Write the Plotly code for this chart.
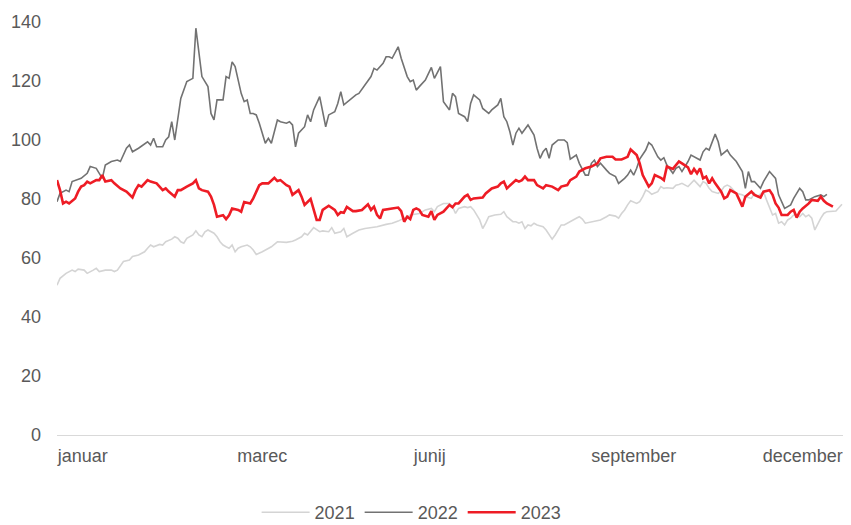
import plotly.graph_objects as go

# ---- data (trading-day index within the year, value) ----
days_2021 = [0,1,3,4,5,6,7,9,10,12,13,14,16,18,19,20,22,24,25,27,29,30,31,32,34,35,36,38,39,40,41,42,43,45,46,47,48,49,50,52,53,54,55,56,57,58,59,60,61,63,64,65,66,68,69,71,73,74,76,78,79,81,82,83,84,85,87,88,90,91,92,94,95,96,98,100,102,104,106,109,111,113,115,117,120,122,124,125,126,128,130,131,132,133,135,136,137,138,140,141,142,143,145,147,148,149,151,152,153,154,155,156,157,158,159,161,162,163,164,165,166,167,168,169,170,172,173,174,175,177,178,180,182,183,185,186,187,188,189,190,192,193,194,195,196,197,199,200,201,202,204,205,206,207,209,210,211,212,213,214,215,216,217,219,220,221,222,223,224,225,227,228,230,231,232,234,235,236,237,238,239,240,241,242,243,244,245,246,247,248,249,250,251,253,254,255,257,258,260]
vals_2021 = [50.8,53.1,54.8,55.4,55.9,55.4,56.2,55.9,54.8,55.9,56.5,55.4,55.9,55.9,55.4,55.9,58.8,59.3,60.5,61,62.1,63.3,64.4,63.8,64.6,64.4,65.5,66.4,67.2,66.7,65.5,65,66.7,67.8,69.2,67.8,67.2,68.9,69.5,68.4,67.2,65.5,64.4,63.8,63.3,64.4,62.1,63.3,63.8,64.4,63.8,62.7,61.2,62.1,62.7,63.8,65.5,65.5,65.3,65.7,66.1,67.2,68.4,67.8,68.9,70.3,68.9,69.2,68.9,70.3,68.4,68.9,70,67.2,68.4,69.5,70,70.3,70.6,71.4,71.8,72.5,73.5,74.6,75.1,76.3,76.8,75.7,77.4,78.5,78.5,77.4,75.1,76.8,77.4,77.1,77.4,76.3,72.9,70,71.8,74,74.6,74.8,75.7,74,72.3,72.3,71.8,72.3,70,71.2,70.9,71.8,71.2,70.6,69.5,67.8,66.4,67.8,69.5,71.2,71.2,71.8,72.5,73.5,74,73.2,71.8,72.3,72.3,72.9,74,74.6,74.2,73.5,75.1,76.3,78,79.4,78.5,79.1,80.8,83,82.5,81.6,82.5,84.2,83.6,83.8,83.6,84.7,84.9,85.3,84.2,85.3,86.4,85.3,84.2,85.9,85.3,83.6,82.5,81.9,82.7,84.2,84.7,84.2,83,81.9,81.4,80.8,80.2,81.9,80.8,82.5,79.7,76.8,74.6,75.1,71.8,72.3,71.2,72.9,73.5,74.6,74.6,74,75.1,74,74.6,73.5,69.5,73.5,75.1,75.7,75.7,75.9,78.2]

days_2022 = [0,1,3,4,5,8,10,11,13,15,16,18,20,21,23,24,25,27,30,31,32,33,35,36,37,38,39,40,41,43,45,46,48,50,51,52,53,55,56,57,58,59,61,62,63,64,65,66,67,69,70,71,73,74,76,77,78,79,80,82,83,84,85,87,89,90,92,93,94,95,97,99,100,102,104,105,106,108,109,110,111,113,114,116,117,118,119,120,122,124,125,127,128,130,131,132,133,135,136,137,138,140,141,143,144,146,147,148,149,150,151,152,153,154,156,157,158,159,160,161,162,163,164,166,168,169,170,172,173,175,176,177,178,179,180,182,183,185,186,188,189,190,191,192,193,195,196,197,199,200,201,202,204,205,206,207,209,210,211,213,214,215,216,218,219,220,222,223,225,227,228,229,230,231,233,234,236,238,239,241,243,244,246,247,248,249,251,253,254,255]
vals_2022 = [79.1,81.9,83,82.5,85.9,87,88.7,91,90.4,87,91.5,92.7,93.2,92.7,97.2,98.3,96,97.2,99.4,98.3,100.6,97.7,97.7,100,101.1,106.2,100,107.4,114.1,119.8,120.9,137.9,121.5,118.1,109,106.8,113.6,113.6,121.5,120.9,126.5,124.9,115.8,113,113.6,109,109,108.5,105.7,98.9,100.6,98.9,106.8,106.2,105.7,106.2,105.1,97.7,102.3,104.5,108.5,106.2,110.2,114.7,104.5,108.5,109.6,112.4,116.4,111.9,113.6,115.3,115.8,118.6,121.5,124.3,123.7,126,128.2,128.2,127.7,131.6,127.7,121.5,119.8,120.3,116.9,118.1,120.3,124.6,120.9,124.9,113,110.2,115.8,114.7,109,107.9,106.2,112.4,115.3,113.6,110.7,109,110.2,111.9,114.1,107.9,106.2,102.8,98.3,102.3,104,102.3,105.1,103.4,101.7,97.2,93.8,96,97.2,93.8,98.3,100,100,99.1,93.5,94.9,92.1,88.1,88.1,92.1,93.2,91,92.1,89.8,88.7,87.6,85.3,87,88.1,89.8,88.1,90.4,93.5,96.6,99.1,98.3,94.3,93.2,94,91.5,88.7,90.4,91,89.3,92.7,94.9,94.3,93.2,96,97.2,96.6,102,99.4,94.9,96.6,94.9,92.7,89.3,83.6,89.3,85.9,85.9,83.6,85.9,89.3,87,81.4,76.8,78,80.2,83.6,82.5,79.7,79.7,80.8,81.4,80.8,81.6]

days_2023 = [0,1,2,3,4,6,7,8,9,10,11,13,14,15,16,18,19,21,23,25,26,27,28,30,31,33,35,36,37,39,40,41,43,45,46,47,48,50,51,52,53,55,56,57,58,60,61,62,64,65,67,68,70,71,72,73,74,76,77,78,80,81,82,84,85,86,87,88,90,92,93,94,95,96,98,99,101,103,104,105,106,107,108,110,111,113,114,115,116,117,118,119,120,121,123,124,125,126,128,130,131,132,133,135,136,137,138,141,142,144,146,147,148,149,151,152,153,154,155,156,158,159,161,162,164,166,167,169,170,172,173,174,175,177,179,180,182,184,185,187,189,190,191,192,193,194,196,197,198,200,201,202,204,205,206,207,209,210,211,212,213,214,215,216,217,218,220,221,222,223,225,226,227,228,230,231,233,234,236,237,238,239,240,242,243,244,245,246,247,249,250,252,253,254,255,257]
vals_2023 = [86.4,83,78.5,79.1,78.5,80.2,82.5,84.2,84.7,85.9,85.3,86.4,86.4,88.1,85.9,86.4,85.3,83.6,82.5,80.5,83,84.7,84.2,86.4,85.9,85.3,83,83.6,82.5,80.8,83,83,84.2,85.3,86.4,83.6,83,82.5,80.8,78,74,74.5,73.2,74.5,76.8,76.3,75.7,79,78.5,80.2,84.7,85.3,85.3,86.4,87.2,86.1,86.4,84.7,84.2,81.4,83,80.8,78,80,76.3,72.9,72.9,76.3,77.7,76.3,74.6,75.5,75.3,77.3,75.9,75.9,76.3,78.2,76.3,77.4,74.6,73.4,76.3,76.8,76.8,77.1,75.9,72.3,74,73.2,76.3,76.8,76.3,74.6,74,75.9,72.9,74.6,75.7,78,77.2,78.5,78.5,80.8,81.4,79.7,80.2,80.5,81.9,83.6,84.2,85.3,85.9,83.6,85.3,86.4,85.9,86.4,87.6,86.4,86.4,84.7,83.6,84.7,84.2,83,84.2,84.7,86.4,87.6,89.3,89.8,90.4,91,92.1,93.8,94.3,94.3,93.4,93.4,94.3,96.8,96,94.9,92.1,88.1,84.2,85.3,88.1,87.2,86.4,91,90.2,91.3,92.7,92.1,90.7,88.4,90.2,88.7,90.4,87,87.6,85.3,87,85.3,82.5,80.2,80.8,83,81.9,79.7,77.4,80.8,82.5,81.4,80.5,82.5,83,81.4,78.5,77.1,74.6,74.6,75.7,76.3,73.7,75.7,76.8,78.5,79.7,79.4,80.8,79.4,78.5,77.4]

tick_pos = [8.5, 68, 123.5, 191, 247]
tick_text = ["januar", "marec", "junij", "september", "december"]
y_ticks = [0, 20, 40, 60, 80, 100, 120, 140]

series = [
    ("2021", days_2021, vals_2021, "#d4d4d4", 1.6),
    ("2022", days_2022, vals_2022, "#727272", 1.6),
    ("2023", days_2023, vals_2023, "#ee1c25", 2.6),
]

fig = go.Figure()
for name, xs, ys, col, w in series:
    fig.add_trace(go.Scatter(x=xs, y=ys, name=name, mode="lines",
                             line=dict(color=col, width=w)))

font_main = dict(family="Liberation Sans, Arial, sans-serif", size=18, color="#595959")

# the page body adds an 8px offset, so the figure is sized to fit the window
fig.update_layout(
    width=843, height=517,
    margin=dict(l=49, r=6, t=14, b=90),
    paper_bgcolor="white", plot_bgcolor="white",
    font=font_main,
    showlegend=True,
    legend=dict(orientation="h", x=0.45, xanchor="center",
                yref="container", y=0.024, yanchor="middle",
                font=font_main, itemwidth=48, traceorder="normal"),
    xaxis=dict(range=[0, 261], tickmode="array", tickvals=tick_pos, ticktext=tick_text,
               showgrid=False, zeroline=False, showline=True, linecolor="#d9d9d9",
               linewidth=1, ticks="", ticklabelstandoff=4, automargin=False,
               tickfont=font_main),
    yaxis=dict(range=[0, 140], tickmode="array", tickvals=y_ticks,
               showgrid=False, zeroline=False, showline=False, ticks="",
               ticklabelstandoff=15, automargin=False, tickfont=font_main),
)

fig.write_html("out.html")
